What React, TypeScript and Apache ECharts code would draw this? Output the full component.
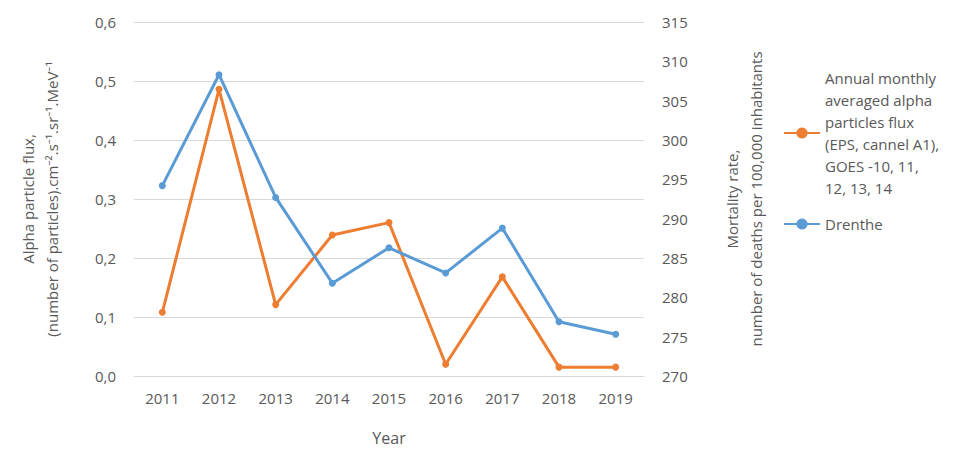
import { useEffect, useRef } from 'react'
import * as echarts from 'echarts'

const years = ['2011', '2012', '2013', '2014', '2015', '2016', '2017', '2018', '2019']
const alphaFlux = [0.108, 0.486, 0.121, 0.239, 0.26, 0.02, 0.168, 0.015, 0.015]
const drenthe = [294.2, 308.3, 292.7, 281.8, 286.3, 283.1, 288.8, 276.9, 275.3]

const fluxName = 'Annual monthly\naveraged alpha\nparticles flux\n(EPS, cannel A1),\nGOES -10, 11,\n12, 13, 14'
const font = 'Open Sans, Noto Sans, sans-serif'
const gray = '#595959'

export default function App() {
  const ref = useRef<HTMLDivElement | null>(null)

  useEffect(() => {
    if (!ref.current) return
    const chart = echarts.init(ref.current, null, { renderer: 'svg' })

    chart.setOption({
      animation: false,
      textStyle: { fontFamily: font },
      grid: { left: 114, right: 308, top: 14, bottom: 62 },
      legend: {
        orient: 'vertical',
        left: 770,
        top: 54,
        itemGap: 14,
        itemWidth: 36,
        textStyle: { color: gray, fontSize: 15, lineHeight: 22 },
        data: [fluxName, 'Drenthe']
      },
      xAxis: {
        type: 'category',
        data: years,
        name: 'Year',
        nameLocation: 'middle',
        nameGap: 54,
        nameTextStyle: { color: gray, fontSize: 16 },
        axisLine: { lineStyle: { color: '#d9d9d9' } },
        axisTick: { show: false },
        axisLabel: { color: gray, fontSize: 15, margin: 14 }
      },
      yAxis: [
        {
          type: 'value',
          min: 0,
          max: 0.6,
          interval: 0.1,
          name: 'Alpha particle flux,\n(number of particles).cm⁻².s⁻¹.sr⁻¹.MeV⁻¹',
          nameLocation: 'middle',
          nameGap: 70,
          nameTextStyle: { color: gray, fontSize: 15, lineHeight: 24 },
          axisLine: { show: false },
          axisTick: { show: false },
          axisLabel: {
            color: gray,
            fontSize: 15,
            margin: 18,
            formatter: (v: number) => v.toFixed(1).replace('.', ',')
          },
          splitLine: { lineStyle: { color: '#d9d9d9' } }
        },
        {
          type: 'value',
          min: 270,
          max: 315,
          interval: 5,
          name: 'Mortality rate,\nnumber of deaths per 100,000 inhabitants',
          nameLocation: 'middle',
          nameGap: 76,
          nameRotate: 90,
          nameTextStyle: { color: gray, fontSize: 15, lineHeight: 24 },
          axisLine: { show: false },
          axisTick: { show: false },
          axisLabel: { color: gray, fontSize: 15, margin: 18 },
          splitLine: { show: false }
        }
      ],
      series: [
        {
          name: fluxName,
          type: 'line',
          data: alphaFlux,
          yAxisIndex: 0,
          symbol: 'circle',
          symbolSize: 7,
          lineStyle: { width: 3, color: '#ED7D31' },
          itemStyle: { color: '#ED7D31' }
        },
        {
          name: 'Drenthe',
          type: 'line',
          data: drenthe,
          yAxisIndex: 1,
          symbol: 'circle',
          symbolSize: 7,
          lineStyle: { width: 3, color: '#5B9BD5' },
          itemStyle: { color: '#5B9BD5' }
        }
      ]
    })

    return () => chart.dispose()
  }, [])

  return <div ref={ref} style={{ width: 944, height: 443 }} />
}
